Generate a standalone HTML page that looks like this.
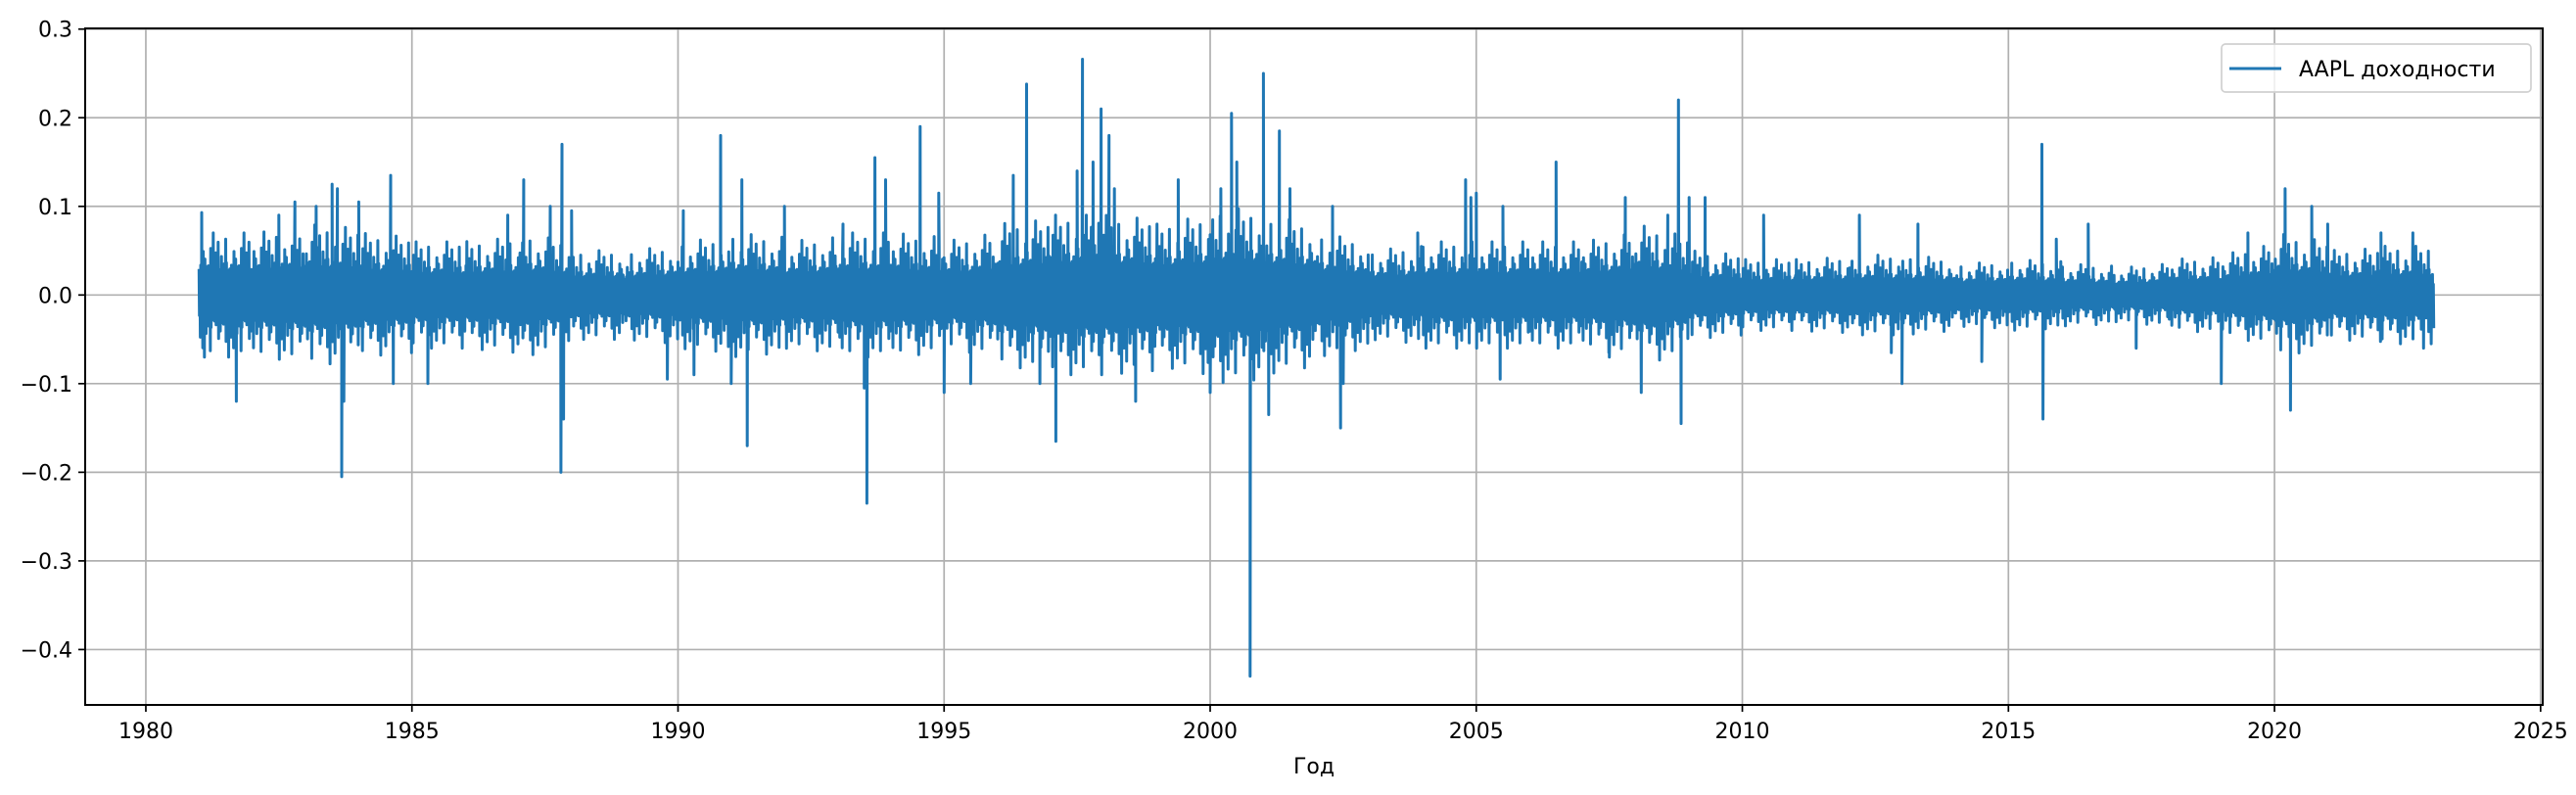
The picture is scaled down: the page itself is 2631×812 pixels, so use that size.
<!DOCTYPE html>
<html><head><meta charset="utf-8">
<style>
html,body{margin:0;padding:0;background:#fff;}
svg text{font-family:"DejaVu Sans","Liberation Sans",sans-serif;fill:#000;}
</style></head>
<body>
<svg id="chart" width="2631" height="807" viewBox="0 0 2631 807" xmlns="http://www.w3.org/2000/svg">
<rect width="2631" height="807" fill="#fff"/>
<g id="grid"></g>
<g id="series"></g>
<g id="axes"></g>
<g id="legend"></g>
</svg>
<script>
const years = [1981,1982,1983,1984,1985,1986,1987,1988,1989,1990,1991,1992,1993,1994,1995,1996,1997,1998,1999,2000,2001,2002,2003,2004,2005,2006,2007,2008,2009,2010,2011,2012,2013,2014,2015,2016,2017,2018,2019,2020,2021,2022];
const bandAmp = [.07,.07,.08,.07,.06,.06,.07,.05,.05,.06,.07,.06,.07,.07,.06,.08,.09,.09,.08,.10,.09,.07,.05,.06,.06,.06,.06,.08,.05,.04,.04,.045,.045,.035,.04,.035,.03,.04,.045,.07,.05,.055];
const spikeYears = [1981.05,1981.1,1981.7,1982.5,1982.8,1983.2,1983.5,1983.6,1983.68,1983.72,1984.0,1984.6,1984.65,1985.3,1986.8,1987.1,1987.6,1987.8,1987.82,1987.85,1988.0,1989.8,1990.1,1990.3,1990.8,1991.0,1991.2,1991.3,1992.0,1993.1,1993.5,1993.55,1993.7,1993.9,1994.55,1994.9,1995.0,1995.5,1996.3,1996.55,1996.8,1997.1,1997.5,1997.6,1997.8,1997.95,1998.1,1998.2,1998.6,1999.4,2000.0,2000.2,2000.4,2000.5,2000.75,2001.0,2001.1,2001.3,2001.5,2002.3,2002.45,2002.5,2003.9,2004.8,2004.9,2005.0,2005.45,2005.5,2006.5,2007.5,2007.8,2008.1,2008.6,2008.8,2008.85,2009.0,2009.3,2010.4,2012.2,2012.8,2013.0,2013.3,2014.5,2015.63,2015.65,2015.9,2016.5,2017.4,2019.0,2019.5,2020.2,2020.3,2020.7,2021.0,2022.0,2022.6,2022.8];
const spikeValues = [.093,-.07,-.12,.09,.105,.10,.125,.12,-.205,-.12,.105,.135,-.10,-.10,.09,.13,.10,-.20,.17,-.14,.095,-.095,.095,-.09,.18,-.10,.13,-.17,.10,.08,-.105,-.235,.155,.13,.19,.115,-.11,-.10,.135,.238,-.10,-.165,.14,.266,.15,.21,.18,.12,-.12,.13,-.11,.12,.205,.15,-.43,.25,-.135,.185,.12,.10,-.15,-.10,.07,.13,.11,.115,-.095,.10,.15,-.07,.11,-.11,.09,.22,-.145,.11,.11,.09,.09,-.065,-.10,.08,-.075,.17,-.14,.063,.08,-.06,-.10,.07,.12,-.13,.10,.08,.07,.07,-.06];
const xTicks = [1980,1985,1990,1995,2000,2005,2010,2015,2020,2025];
const yTicks = [0.3,0.2,0.1,0.0,-0.1,-0.2,-0.3,-0.4];
const yTickLabels = ["0.3","0.2","0.1","0.0","\u22120.1","\u22120.2","\u22120.3","\u22120.4"];

const L=87,R=2597,T=29,B=720;
const X0=1978.86,X1=2025.04,Y0=-0.4625,Y1=0.3008;
const sx=v=>L+(v-X0)/(X1-X0)*(R-L);
const sy=v=>B-(v-Y0)/(Y1-Y0)*(B-T);
const NS="http://www.w3.org/2000/svg";
function mk(tag,attrs,parent){const e=document.createElementNS(NS,tag);for(const k in attrs)e.setAttribute(k,attrs[k]);parent.appendChild(e);return e;}
const grid=document.getElementById('grid'),axes=document.getElementById('axes'),ser=document.getElementById('series'),leg=document.getElementById('legend');

xTicks.forEach(t=>{const x=sx(t);
 const g=mk('line',{x1:x,x2:x,y1:T,y2:B,stroke:'#b0b0b0','stroke-width':1.7},grid);
 
 
 const tk=mk('line',{x1:x,x2:x,y1:B,y2:B+7,stroke:'#000','stroke-width':1.7},axes);
 
 
 const tx=mk('text',{x:x,y:B+34,'text-anchor':'middle','font-size':22},axes);tx.textContent=t;
 
 
});
yTicks.forEach((t,i)=>{const y=sy(t);
 const g=mk('line',{x1:L,x2:R,y1:y,y2:y,stroke:'#b0b0b0','stroke-width':1.7},grid);
 
 
 const tk=mk('line',{x1:L-7,x2:L,y1:y,y2:y,stroke:'#000','stroke-width':1.7},axes);
 
 
 const tx=mk('text',{x:L-13,y:y+8,'text-anchor':'end','font-size':22},axes);tx.textContent=yTickLabels[i];
 
 
});
const frame=mk('rect',{x:L,y:T,width:R-L,height:B-T,fill:'none',stroke:'#000','stroke-width':2},axes);


const xt=mk('text',{x:(L+R)/2,y:790,'text-anchor':'middle','font-size':22},axes);xt.textContent='Год';



// series: zigzag with band amplitude blended between years, spikes inserted at their dates
const texture=[.42,.3,.55,.25,.9,.38,.47,.33,.62,.28,.4,.75,.35,.5,.22,.45,1,.36,.52,.3,.44,.68,.27,.4,.58,.32,.85,.37,.48,.26,.6,.41,.34,.7,.29,.5,.43];
let pts=[];
years.forEach((yr,i)=>{const n=128;const nxt=bandAmp[Math.min(i+1,bandAmp.length-1)];
 for(let k=0;k<n;k++){const f=k/n;const amp=bandAmp[i]*(1-f*0.5)+nxt*(f*0.5);
  const sgn=(k%2?-1:1);pts.push([yr+f,sgn*amp*texture[(k*7+i*5)%texture.length]]);}});
spikeYears.forEach((t,i)=>pts.push([t+0.0001,spikeValues[i]]));
pts.sort((a,b)=>a[0]-b[0]);
const d=pts.map((p,i)=>(i?'L':'M')+sx(p[0]).toFixed(1)+' '+sy(p[1]).toFixed(1)).join('');
const line=mk('path',{d:d,fill:'none',stroke:'#1f77b4','stroke-width':3,'stroke-linejoin':'round'},ser);



// legend
const lb=mk('rect',{x:2269,y:45,width:316,height:49,rx:4,fill:'#fff','fill-opacity':0.8,stroke:'#d0d0d0','stroke-width':1.7},leg);


const ll=mk('line',{x1:2277,x2:2330,y1:70,y2:70,stroke:'#1f77b4','stroke-width':3},leg);


const lt=mk('text',{x:2348,y:78,'font-size':22},leg);lt.textContent='AAPL доходности';


</script>
</body></html>
